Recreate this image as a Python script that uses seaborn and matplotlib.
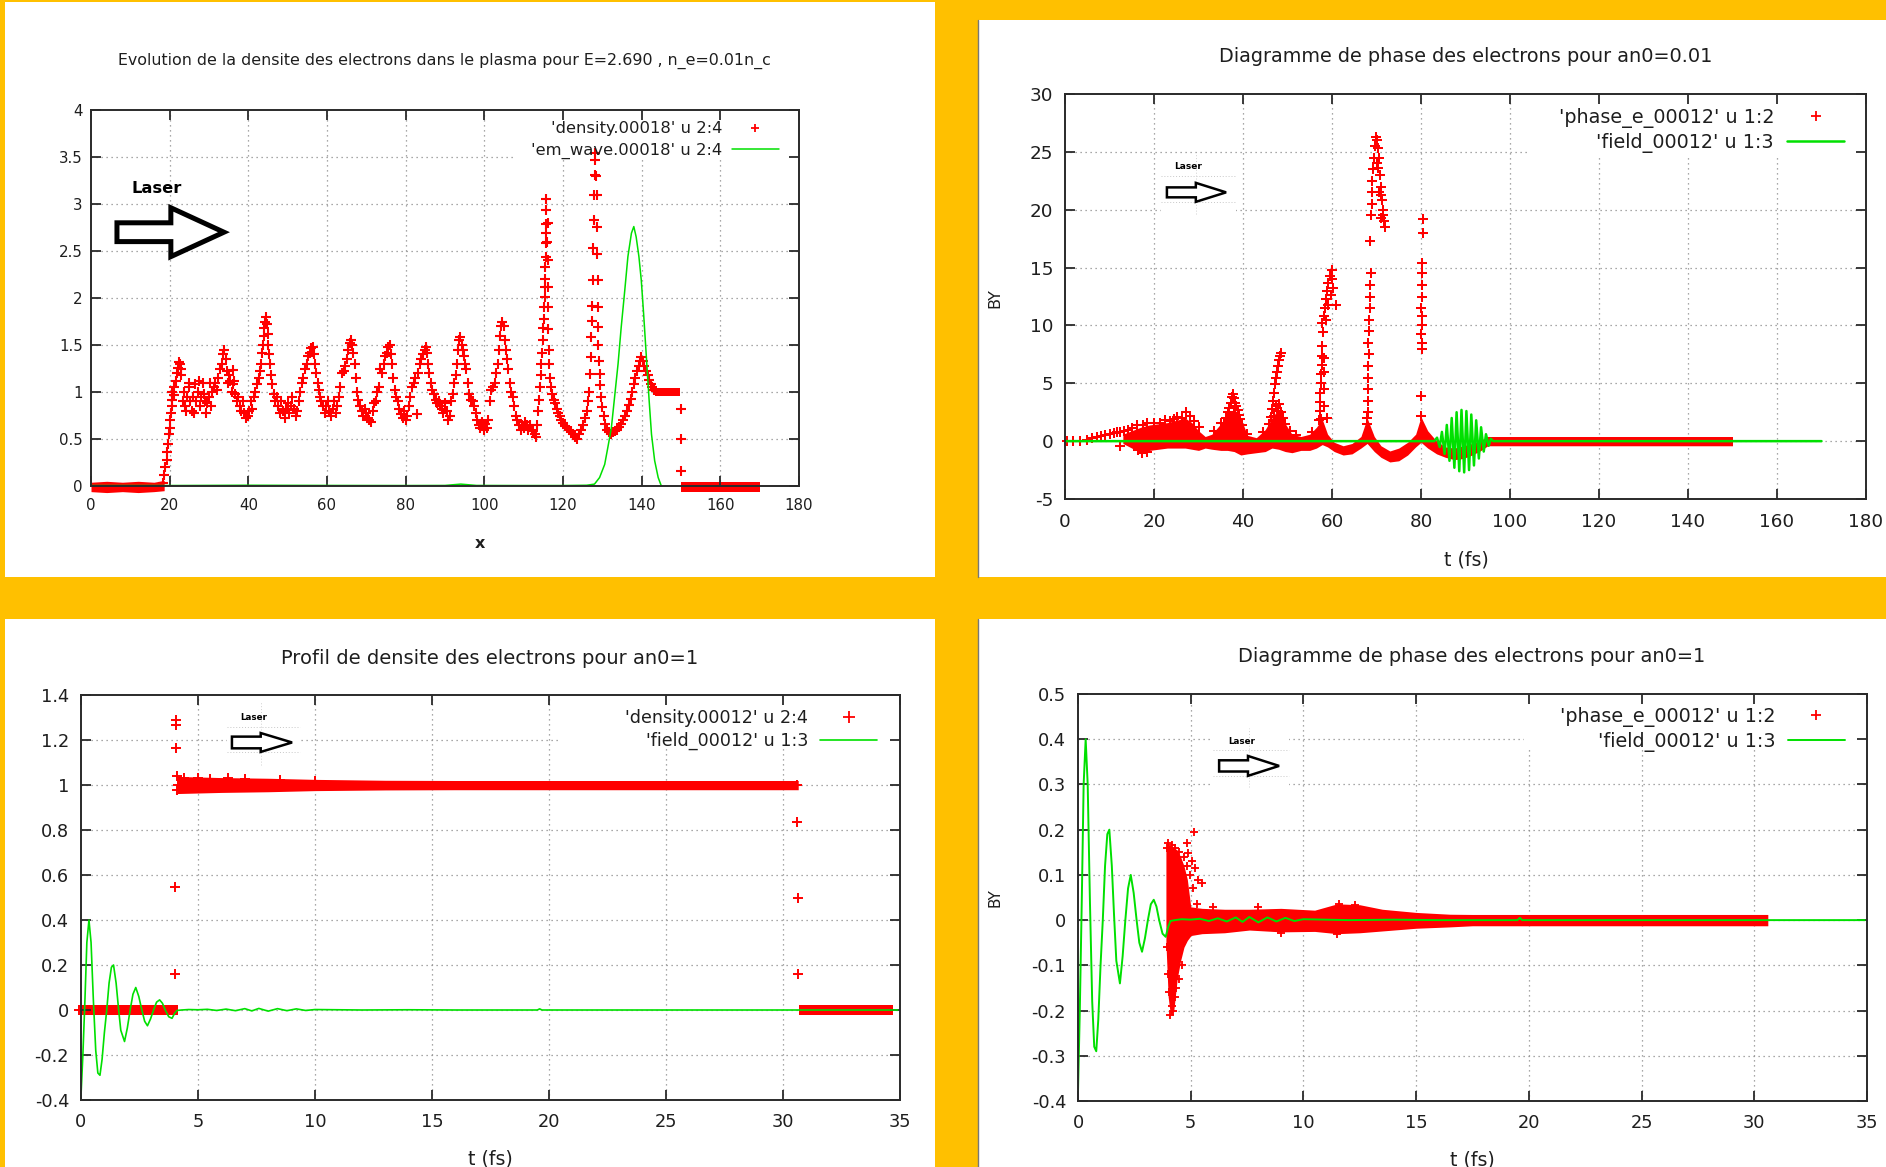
import matplotlib
matplotlib.use("Agg")
import matplotlib.pyplot as plt
import seaborn as sns
from matplotlib.lines import Line2D
from matplotlib.patches import Rectangle, FancyArrow

# ======================= DATA =======================
# ---- Panel 1 (top-left): density / em_wave, step 00018
tl_xticks = [0, 20, 40, 60, 80, 100, 120, 140, 160, 180]
tl_yticks = [0, 0.5, 1, 1.5, 2, 2.5, 3, 3.5, 4]
tl_labels = ["'density.00018' u 2:4", "'em_wave.00018' u 2:4"]
tl_density_pts = [
    (18.2, 0.03), (18.6, 0.12), (18.9, 0.2), (19.2, 0.28), (19.4, 0.36), (19.6, 0.45), (19.8, 0.55), (20.0, 0.62),
    (20.2, 0.7), (20.4, 0.78), (20.5, 0.85), (20.7, 0.92), (20.6, 1.0), (21.0, 0.97), (21.2, 1.05), (21.5, 1.12),
    (21.8, 1.2), (22.1, 1.26), (22.4, 1.32), (22.7, 1.3), (23.0, 1.25), (22.9, 1.18),
    (23.3, 0.9), (23.6, 1.0), (24.0, 0.85), (24.4, 0.95), (24.8, 1.05), (25.2, 0.9), (25.6, 0.8), (26.0, 0.95),
    (26.4, 1.08), (26.8, 0.9), (27.2, 1.0), (27.6, 0.85), (28.0, 0.95), (28.4, 1.1), (28.8, 0.98), (29.2, 0.78),
    (29.6, 0.88), (30.0, 0.95), (30.4, 0.85), (30.8, 1.0), (31.2, 1.05), (24.2, 0.8), (25.0, 1.1), (26.2, 0.78),
    (27.4, 1.12), (29.0, 0.9), (30.2, 1.1),
    (31.6, 1.1), (32.0, 1.02), (32.4, 1.15), (32.8, 1.25), (33.2, 1.3), (33.6, 1.4), (33.9, 1.45), (34.2, 1.35),
    (34.5, 1.22), (34.8, 1.1), (35.1, 1.18), (35.4, 1.12), (35.8, 1.0), (36.2, 1.08), (36.6, 0.98), (37.0, 0.9),
    (37.4, 0.95), (37.8, 0.85), (38.2, 0.8), (38.6, 0.9), (39.0, 0.78), (39.4, 0.72), (39.8, 0.75), (40.2, 0.8),
    (40.6, 0.9), (41.0, 0.82), (41.4, 0.95), (41.8, 1.0), (42.2, 1.08), (42.6, 1.15), (36.0, 1.23), (36.4, 1.12),
    (42.9, 1.22), (43.2, 1.3), (43.5, 1.42), (43.7, 1.5), (43.9, 1.6), (44.1, 1.68), (44.3, 1.75), (44.5, 1.8),
    (44.7, 1.72), (44.9, 1.62), (45.1, 1.5), (45.3, 1.4), (45.5, 1.3), (45.7, 1.18), (46.0, 1.08), (46.4, 0.98),
    (46.8, 0.9), (47.2, 0.95), (47.6, 0.85), (48.0, 0.78), (48.4, 0.9), (48.8, 0.8), (49.2, 0.72), (49.6, 0.82),
    (50.0, 0.88), (50.4, 0.78), (50.8, 0.85), (51.2, 0.95), (51.6, 0.82), (52.0, 0.75), (52.4, 0.8), (52.8, 0.9),
    (53.2, 1.0), (53.6, 1.1), (54.0, 1.15), (54.4, 1.25), (54.8, 1.3), (55.2, 1.38), (55.6, 1.42), (56.0, 1.47),
    (56.4, 1.48), (56.7, 1.4), (57.0, 1.3), (57.3, 1.2), (57.6, 1.1), (57.9, 1.02), (58.2, 0.95), (58.6, 0.9),
    (59.0, 0.85), (59.4, 0.78), (59.8, 0.85), (60.2, 0.9), (60.6, 0.8), (61.0, 0.75), (61.4, 0.82), (61.8, 0.9),
    (62.2, 0.78), (62.6, 0.85), (63.0, 0.95), (63.4, 1.05), (63.8, 1.2),
    (64.2, 1.22), (64.6, 1.28), (65.0, 1.35), (65.4, 1.45), (65.8, 1.52), (66.1, 1.55), (66.4, 1.5), (66.7, 1.42),
    (67.0, 1.3), (67.3, 1.15), (67.6, 1.0), (68.0, 0.92), (68.4, 0.85), (68.8, 0.8), (69.2, 0.75), (69.6, 0.82),
    (70.0, 0.78), (70.4, 0.72), (70.8, 0.7), (71.2, 0.68), (71.6, 0.8), (72.0, 0.88), (72.4, 0.9), (72.8, 1.0),
    (73.2, 1.05), (73.6, 1.25), (74.0, 1.2), (74.4, 1.3), (74.8, 1.38), (75.2, 1.42), (75.6, 1.48), (75.9, 1.5),
    (76.2, 1.4), (76.5, 1.3), (76.8, 1.15), (77.2, 1.02), (77.6, 0.95), (78.0, 0.9), (78.4, 0.82), (78.8, 0.77),
    (79.2, 0.72), (79.6, 0.8), (80.0, 0.7), (80.4, 0.75), (80.8, 0.85), (81.2, 0.95), (81.6, 1.05), (82.0, 1.1),
    (82.4, 1.15), (82.8, 0.77), (83.2, 1.2), (83.6, 1.3), (84.0, 1.35), (84.4, 1.4), (84.8, 1.45), (85.1, 1.48),
    (85.4, 1.42), (85.7, 1.3), (86.0, 1.2), (86.4, 1.1), (86.8, 1.02), (87.2, 0.98), (87.6, 0.92), (88.0, 0.88),
    (88.4, 0.9), (88.8, 0.85), (89.2, 0.82), (89.6, 0.78), (90.0, 0.88), (90.4, 0.8), (90.8, 0.7), (91.2, 0.75),
    (91.6, 0.9), (92.0, 0.98), (92.4, 1.1), (92.8, 1.18),
    (93.1, 1.3), (93.4, 1.45), (93.6, 1.55), (93.9, 1.58), (94.2, 1.5), (94.5, 1.45), (94.8, 1.38), (95.1, 1.3),
    (95.4, 1.25), (95.8, 1.1), (96.2, 0.98), (96.6, 0.92), (97.0, 0.9), (97.4, 0.85), (97.8, 0.78), (98.2, 0.7),
    (98.6, 0.65), (99.0, 0.62), (99.4, 0.68), (99.8, 0.6), (100.2, 0.66), (100.6, 0.62), (101.0, 0.7), (101.4, 0.9),
    (101.8, 1.02),
    (102.2, 1.05), (102.6, 1.1), (103.0, 1.2), (103.4, 1.3), (103.7, 1.45), (104.0, 1.6), (104.3, 1.7), (104.6, 1.75),
    (104.9, 1.7), (105.2, 1.55), (105.5, 1.45), (105.8, 1.35), (106.1, 1.25), (106.4, 1.1), (106.8, 1.0), (107.2, 0.95),
    (107.6, 0.85), (108.0, 0.75), (108.4, 0.7), (108.8, 0.65), (109.2, 0.6), (109.6, 0.65), (110.0, 0.62), (110.4, 0.68),
    (110.8, 0.65), (111.2, 0.6), (111.6, 0.65), (112.0, 0.6), (112.4, 0.58), (112.8, 0.55), (113.2, 0.52), (113.5, 0.65),
    (113.7, 0.8), (113.9, 0.92), (114.1, 1.05), (114.3, 1.18), (114.5, 1.3),
    (114.7, 1.42), (114.9, 1.55), (115.0, 1.68), (115.1, 1.78), (115.2, 1.9), (115.3, 2.01), (115.4, 2.12), (115.4, 2.2),
    (115.5, 2.33), (115.6, 2.44), (115.6, 2.58), (115.7, 2.69), (115.7, 2.79), (115.8, 2.94), (115.8, 3.05),
    (116.1, 2.8), (116.0, 2.6), (116.1, 2.4), (116.2, 2.12), (116.2, 1.9), (116.3, 1.67), (116.4, 1.45),
    (116.5, 1.3), (116.7, 1.15), (117.0, 1.05), (117.3, 0.98), (117.6, 0.92), (118.0, 0.88), (118.4, 0.82), (118.8, 0.78),
    (119.2, 0.74), (119.6, 0.7), (120.0, 0.67), (120.5, 0.64), (121.0, 0.62), (121.5, 0.6), (122.0, 0.58), (122.5, 0.55),
    (123.0, 0.52), (123.5, 0.5), (124.0, 0.55), (124.5, 0.6), (125.0, 0.65), (125.5, 0.72), (126.0, 0.8), (126.4, 0.9),
    (126.7, 1.0), (126.8, 1.19), (127.0, 1.37), (127.2, 1.58), (127.3, 1.76), (127.4, 1.92), (127.6, 2.19), (127.7, 2.53),
    (127.8, 2.83), (128.0, 3.1), (128.1, 3.31), (128.1, 3.47), (128.2, 3.54), (128.5, 3.3), (128.6, 3.1), (128.6, 2.76),
    (128.7, 2.47), (128.8, 2.19), (128.9, 1.9), (129.0, 1.69), (129.0, 1.5), (129.2, 1.33), (129.3, 1.19), (129.4, 1.07),
    (129.7, 0.95), (130.0, 0.84), (130.4, 0.74), (130.8, 0.66), (131.3, 0.6), (131.8, 0.57), (132.3, 0.55), (132.8, 0.57),
    (133.3, 0.58), (133.8, 0.6), (134.3, 0.63), (134.8, 0.66), (135.3, 0.7), (135.8, 0.75), (136.3, 0.8), (136.8, 0.86),
    (137.2, 0.93), (137.6, 1.0), (138.0, 1.08), (138.4, 1.15), (138.8, 1.22), (139.2, 1.28), (139.6, 1.33), (139.9, 1.37),
    (140.3, 1.33), (140.7, 1.28), (141.1, 1.22), (141.5, 1.18), (141.9, 1.13), (142.3, 1.09), (142.7, 1.05), (143.1, 1.02),
    (149.9, 0.82), (149.9, 0.5), (149.9, 0.16),
]
tl_band0_x = [0.0, 4.0, 8.0, 12.0, 16.0, 18.6]
tl_band0_lo = [-0.06, -0.07, -0.06, -0.07, -0.06, -0.05]
tl_band0_hi = [0.04, 0.05, 0.04, 0.05, 0.04, 0.06]
tl_band1_x = [143.3, 149.7]
tl_band1_lo = [0.96, 0.96]
tl_band1_hi = [1.04, 1.04]
tl_band2_x = [150.0, 170.0]
tl_band2_lo = [-0.06, -0.06]
tl_band2_hi = [0.04, 0.04]
tl_emwave_x = [0, 20, 40, 60, 80, 90, 94, 98, 110, 120, 126, 128, 129.3, 130.6, 131.4, 132.3, 133.1, 134.0,
               134.8, 135.7, 136.5, 137.4, 138.0, 138.6, 139.3, 139.9, 140.5, 141.2, 141.9, 142.5, 143.3, 144.2, 145.0]
tl_emwave_y = [0.005, 0.005, 0.008, 0.006, 0.005, 0.006, 0.02, 0.006, 0.005, 0.005, 0.008, 0.02, 0.09, 0.23, 0.41,
               0.62, 0.94, 1.3, 1.69, 2.08, 2.44, 2.69, 2.76, 2.65, 2.44, 2.19, 1.83, 1.37, 0.91, 0.55, 0.27, 0.09, 0.0]

# ---- Panel 2 (top-right): phase diagram an0=0.01
tr_xticks = [0, 20, 40, 60, 80, 100, 120, 140, 160, 180]
tr_yticks = [-5, 0, 5, 10, 15, 20, 25, 30]
tr_labels = ["'phase_e_00012' u 1:2", "'field_00012' u 1:3"]
tr_phase_pts = [
    (0.5, 0.0), (1.9, 0.0), (3.4, 0.05), (4.9, 0.1), (6.0, 0.25), (7.1, 0.39), (8.0, 0.45), (9.0, 0.53), (10.0, 0.6),
    (10.9, 0.68), (11.7, 0.75), (12.4, 0.82), (12.4, -0.42), (13.3, 0.9), (14.2, 0.96), (15.0, 1.1), (16.1, 1.4),
    (17.6, 1.4), (18.4, 1.54), (17.2, -1.05), (18.4, -0.9), (16.5, -0.8),
    (20.0, 1.6), (21.3, 1.54), (22.5, 1.8), (23.6, 1.7), (24.5, 1.9), (25.1, 2.1), (26.2, 2.0), (27.3, 2.55),
    (28.0, 2.2), (29.0, 1.7), (30.0, 1.2), (33.5, 0.9), (35.0, 1.6),
    (35.8, 1.6), (36.2, 2.0), (36.6, 2.5), (36.9, 2.9), (37.2, 3.3), (37.5, 3.8), (37.7, 4.1), (38.0, 3.7), (38.3, 3.3),
    (38.5, 3.0), (38.8, 2.7), (39.1, 2.3), (39.4, 1.9), (39.7, 1.4), (37.0, 2.2), (38.0, 2.4), (38.7, 1.8),
    (45.8, 1.5), (46.2, 2.1), (46.5, 2.8), (46.8, 3.5), (47.0, 4.2), (47.2, 4.9), (47.4, 5.5), (47.6, 6.0), (47.9, 6.5),
    (48.1, 7.0), (48.4, 7.4), (48.6, 7.6), (47.5, 3.0), (47.8, 2.6), (48.2, 3.2), (48.6, 2.5), (49.0, 2.0), (49.4, 1.5),
    (46.9, 2.2), (48.0, 1.8),
    (57.0, 1.8), (57.2, 2.6), (57.3, 3.4), (57.4, 4.2), (57.5, 5.0), (57.6, 5.8), (57.7, 6.6), (57.8, 7.4), (57.8, 8.2),
    (58.1, 3.0), (58.2, 4.5), (58.2, 6.0), (58.3, 7.2), (57.9, 9.4), (57.7, 10.2), (58.1, 10.8), (58.4, 11.5),
    (58.6, 12.3), (58.9, 13.0), (59.2, 13.7), (59.6, 14.3), (59.9, 14.8), (60.1, 14.0), (60.3, 13.2), (59.7, 12.6),
    (59.0, 11.8), (58.6, 10.5), (60.8, 11.8), (58.8, 2.0),
    (67.9, 1.5), (68.0, 2.5), (68.1, 3.5), (68.0, 4.5), (68.2, 5.5), (68.1, 6.5), (68.3, 7.5), (68.2, 8.5), (68.4, 9.5),
    (68.3, 10.5), (68.5, 11.5), (68.6, 12.5), (68.5, 13.5), (68.7, 14.5), (68.6, 17.3), (68.8, 19.5), (69.0, 20.5),
    (68.9, 21.5), (69.1, 22.5), (69.3, 23.5), (69.4, 24.5), (69.6, 25.5), (69.8, 26.3), (70.1, 26.0), (70.3, 25.3),
    (70.5, 24.5), (70.3, 23.6), (70.7, 23.0), (70.9, 22.0), (71.0, 21.3), (71.2, 20.8), (71.4, 20.0), (71.5, 19.5),
    (71.7, 19.0), (71.8, 18.5), (70.0, 24.0), (70.6, 21.5), (71.1, 19.3),
    (80.5, 19.2), (80.4, 18.0), (80.3, 15.4), (80.2, 14.5), (80.3, 13.5), (80.2, 12.5), (80.1, 11.5), (80.3, 10.8),
    (80.2, 10.0), (80.1, 9.3), (80.3, 8.5), (80.2, 8.0), (79.9, 3.9),
    (57.5, 1.9), (67.9, 2.0), (80.0, 2.2), (41.0, 0.6), (44.5, 0.8), (50.5, 0.9), (52.0, 0.5), (55.5, 0.8),
]
tr_band_x = [13, 15, 17, 19, 21, 23, 25, 27, 28.5, 30, 31.5, 33, 35, 36.5, 38, 39.5, 41, 43, 45, 46.5,
             48, 49.5, 51, 53, 55, 56.5, 57.8, 59, 60.5, 62.5, 64.5, 66.5, 67.9, 69.5, 71, 73, 75, 77, 78.8, 80,
             81.5, 83.5, 85.5, 87.5, 89.5, 91.5, 93.5, 95, 150]
tr_band_hi = [0.6, 0.9, 1.2, 1.4, 1.5, 1.6, 1.8, 2.0, 1.6, 0.9, 0.4, 0.6, 1.5, 2.2, 2.8, 2.0, 0.5, 0.3, 1.0, 2.0,
              2.8, 1.5, 0.6, 0.4, 0.6, 1.2, 1.9, 0.6, -0.1, -0.4, -0.2, 0.4, 2.0, 0.4, -0.4, -0.85, -0.6, -0.1, 0.6, 2.1,
              0.9, 0.0, -0.5, -0.6, -0.4, -0.2, 0.1, 0.4, 0.4]
tr_band_lo = [-0.2, -0.6, -1.0, -0.8, -0.7, -0.6, -0.6, -0.6, -0.7, -0.8, -0.6, -0.7, -0.8, -0.8, -0.9, -1.2, -1.1, -1.0, -0.9, -0.6,
              -0.7, -0.9, -1.0, -0.8, -0.8, -0.6, -0.3, -0.5, -0.9, -1.2, -1.1, -0.6, -0.2, -0.9, -1.4, -1.8, -1.7, -1.2, -0.5, -0.1,
              -0.6, -1.1, -1.4, -1.6, -1.5, -1.2, -0.8, -0.4, -0.4]
tr_field_x = [0.0, 83.0, 83.6, 84.2, 84.7, 85.3, 85.8, 86.4, 86.9, 87.5, 88.0, 88.6, 89.1, 89.7, 90.2, 90.8, 91.3,
              91.9, 92.4, 93.0, 93.5, 94.1, 94.6, 95.2, 95.7, 96.2, 170.0]
tr_field_y = [0.0, 0.0, 0.3, -0.5, 0.8, -1.1, 1.4, -1.7, 2.0, -2.3, 2.5, -2.6, 2.7, -2.7, 2.6, -2.5, 2.3,
              -2.1, 1.8, -1.5, 1.2, -0.9, 0.6, -0.4, 0.2, 0.0, 0.0]

# ---- Shared laser field (field_00012 u 1:3), panels 3 and 4
field_t = [0.0, 0.08, 0.17, 0.25, 0.34, 0.43, 0.53, 0.63, 0.72, 0.81, 0.9, 1.0, 1.1, 1.2, 1.3, 1.39, 1.5, 1.6, 1.7,
           1.86, 1.98, 2.1, 2.22, 2.34, 2.47, 2.6, 2.72, 2.84, 2.97, 3.1, 3.23, 3.36, 3.48, 3.6, 3.75, 3.89, 4.0,
           4.1, 4.3, 4.6, 5.0, 5.4, 5.8, 6.2, 6.6, 7.0, 7.3, 7.6, 8.0, 8.4, 8.8, 9.2, 9.6, 10.0, 11.0, 12.0, 14.0,
           16.0, 19.5, 19.6, 19.7, 22.0, 26.0, 30.0, 34.9]
field_v = [-0.38, -0.2, 0.05, 0.3, 0.4, 0.3, 0.04, -0.18, -0.28, -0.29, -0.22, -0.1, 0.0, 0.12, 0.19, 0.2, 0.12,
           0.01, -0.09, -0.14, -0.08, 0.0, 0.07, 0.1, 0.06, 0.0, -0.05, -0.07, -0.04, 0.0, 0.035, 0.045, 0.03, 0.0,
           -0.03, -0.037, -0.015, -0.002, 0.0, 0.002, 0.001, 0.003, -0.002, 0.004, -0.003, 0.006, -0.004, 0.007,
           -0.005, 0.006, -0.003, 0.005, -0.002, 0.002, 0.001, 0.0, 0.001, 0.0, 0.0, 0.005, 0.0, 0.0, 0.0, 0.0, 0.0]

# ---- Panel 3 (bottom-left): density profile an0=1
bl_xticks = [0, 5, 10, 15, 20, 25, 30, 35]
bl_yticks = [-0.4, -0.2, 0, 0.2, 0.4, 0.6, 0.8, 1, 1.2, 1.4]
bl_labels = ["'density.00012' u 2:4", "'field_00012' u 1:3"]
bl_density_pts = [(-0.1, 0.0), (4.05, 1.29), (4.08, 1.265), (4.05, 1.165), (4.1, 1.04), (4.0, 0.545), (4.0, 0.16),
                  (4.15, 1.0), (4.1, 0.98), (30.6, 0.835), (30.65, 0.5), (30.65, 0.16), (30.6, 1.0), (4.4, 1.03),
                  (5.0, 1.03), (5.5, 1.028), (6.3, 1.03), (7.0, 1.027), (8.5, 1.024), (10.0, 1.02)]
bl_band0_x = [0.0, 4.15]
bl_band0_lo = [-0.022, -0.022]
bl_band0_hi = [0.02, 0.02]
bl_band1_x = [4.1, 6.0, 8.0, 10.0, 13.0, 16.0, 30.65]
bl_band1_lo = [0.962, 0.967, 0.97, 0.975, 0.978, 0.979, 0.979]
bl_band1_hi = [1.038, 1.033, 1.03, 1.025, 1.021, 1.02, 1.02]
bl_band2_x = [30.7, 34.7]
bl_band2_lo = [-0.022, -0.022]
bl_band2_hi = [0.02, 0.02]

# ---- Panel 4 (bottom-right): phase diagram an0=1
br_xticks = [0, 5, 10, 15, 20, 25, 30, 35]
br_yticks = [-0.4, -0.3, -0.2, -0.1, 0, 0.1, 0.2, 0.3, 0.4, 0.5]
br_labels = ["'phase_e_00012' u 1:2", "'field_00012' u 1:3"]
br_phase_pts = [(3.95, 0.16), (4.0, 0.17), (4.15, 0.165), (4.3, 0.16), (4.5, 0.15), (4.7, 0.14), (4.82, 0.17),
                (4.9, 0.148), (5.04, 0.13), (5.15, 0.194), (5.19, 0.115), (5.34, 0.089), (5.49, 0.081), (4.85, 0.12),
                (4.95, 0.1), (5.1, 0.07), (4.6, 0.12), (4.4, 0.13), (4.1, -0.21), (4.2, -0.2), (4.05, -0.16),
                (4.3, -0.17), (4.6, -0.1), (4.5, -0.13), (4.35, -0.15), (4.15, -0.19), (4.25, -0.13), (4.0, -0.12),
                (3.95, -0.06), (5.3, 0.035), (6.0, 0.028), (8.0, 0.028), (11.6, 0.036), (12.3, 0.034),
                (9.0, -0.028), (11.5, -0.03)]
br_core_x = [3.9, 4.0, 4.1, 4.25, 4.4, 4.55, 4.7, 4.85, 5.0]
br_core_lo = [-0.05, -0.17, -0.21, -0.2, -0.13, -0.09, -0.06, -0.045, -0.035]
br_core_hi = [0.16, 0.165, 0.165, 0.16, 0.155, 0.14, 0.12, 0.09, 0.03]
br_band_x = [4.9, 5.5, 6.5, 7.6, 9.0, 10.5, 11.5, 12.5, 13.5, 15.0, 16.5, 17.5, 30.6]
br_band_lo = [-0.035, -0.03, -0.028, -0.022, -0.026, -0.025, -0.03, -0.028, -0.024, -0.018, -0.015, -0.0125, -0.0125]
br_band_hi = [0.03, 0.026, 0.024, 0.024, 0.026, 0.022, 0.036, 0.034, 0.024, 0.017, 0.013, 0.0125, 0.0125]

# ======================= STYLE / LAYOUT =======================
sns.set_theme(style="white")
plt.rcParams["font.family"] = ["DejaVu Sans"]
plt.rcParams["axes.unicode_minus"] = False

ORANGE = "#ffc000"
RED = "#ff0000"
GREEN = "#00e000"
GRID = "#8c8c8c"
AXC = "#2a2a2a"
TXT = "#1e1e1e"

W, H = 1886, 1167
fig = plt.figure(figsize=(W / 100, H / 100), dpi=100)
fig.patch.set_facecolor(ORANGE)

for (x0, y0, x1, y1) in [(5, 2, 935, 577), (978, 20, 1886, 577), (5, 619, 935, 1167), (978, 619, 1886, 1167)]:
    fig.patches.append(Rectangle((x0 / W, 1 - y1 / H), (x1 - x0) / W, (y1 - y0) / H,
                                 transform=fig.transFigure, facecolor="white", edgecolor="none", zorder=-5))
for (y0, y1) in [(20, 577), (619, 1167)]:
    fig.add_artist(Line2D([978 / W, 978 / W], [1 - y1 / H, 1 - y0 / H], color="#777777", lw=1.0,
                          transform=fig.transFigure, zorder=-4))


def make_ax(l, t, r, b):
    return fig.add_axes([l / W, 1 - b / H, (r - l) / W, (b - t) / H])


def style(ax, xlim, ylim, xticks, yticks, fs, xpad, ypad):
    ax.set_xlim(xlim)
    ax.set_ylim(ylim)
    ax.set_xticks(xticks)
    ax.set_xticklabels([f"{v:g}" for v in xticks])
    ax.set_yticks(yticks)
    ax.set_yticklabels([f"{v:g}" for v in yticks])
    ax.set_facecolor("white")
    for s in ax.spines.values():
        s.set_visible(True)
        s.set_color(AXC)
        s.set_linewidth(1.4)
        s.set_zorder(6)
    ax.tick_params(which="major", direction="in", length=7, width=1.3, color=AXC, top=True, right=True,
                   bottom=True, left=True, labelsize=fs, labelcolor=TXT)
    ax.tick_params(axis="x", pad=xpad)
    ax.tick_params(axis="y", pad=ypad)
    ax.set_axisbelow(False)
    ax.grid(False)
    for v in xticks[1:-1]:
        ax.axvline(v, color=GRID, lw=0.9, ls=(0, (1, 3)), zorder=0.2)
    for v in yticks[1:-1]:
        ax.axhline(v, color=GRID, lw=0.9, ls=(0, (1, 3)), zorder=0.2)
    ax.set_xlabel("")
    ax.set_ylabel("")


def cover(ax, x0, y0, x1, y1):
    ax.add_patch(Rectangle((x0, y0), x1 - x0, y1 - y0, transform=ax.transAxes, facecolor="white",
                           edgecolor="none", zorder=0.4))


def legend(ax, labels, fs, ms, glw, anchor, hl, htp, ls):
    handles = [Line2D([], [], ls="none", marker="+", color=RED, ms=ms, mew=1.3),
               Line2D([], [], color=GREEN, lw=glw)]
    lg = ax.legend(handles, labels, loc="upper right", bbox_to_anchor=anchor, markerfirst=False, frameon=False,
                   fontsize=fs, handlelength=hl, handletextpad=htp, labelspacing=ls, borderpad=0,
                   borderaxespad=0)
    for t in lg.get_texts():
        t.set_color(TXT)
    lg.set_zorder(7)


def laser_patch(ax, xr, yr, hy, vx):
    ax.add_patch(Rectangle((xr[0], yr[0]), xr[1] - xr[0], yr[1] - yr[0], facecolor="white",
                           edgecolor="none", zorder=0.4))
    for y in hy:
        ax.plot(xr, [y, y], color="#c8c8c8", lw=0.7, ls=(0, (1, 2)), zorder=0.45)
    ax.plot([vx, vx], yr, color="#d0d0d0", lw=0.7, ls=(0, (1, 2)), zorder=0.45)


def scatter(ax, pts, s, lw=1.2):
    sns.scatterplot(x=[p[0] for p in pts], y=[p[1] for p in pts], ax=ax, marker="+", color=RED, s=s,
                    linewidth=lw, zorder=2, legend=False, clip_on=False)


def line(ax, xs, ys, lw):
    sns.lineplot(x=xs, y=ys, ax=ax, color=GREEN, linewidth=lw, estimator=None, sort=False, zorder=4)


def band(ax, xs, lo, hi):
    ax.fill_between(xs, lo, hi, color=RED, lw=0, zorder=1.5, clip_on=False)


renderer = fig.canvas.get_renderer()


def ftext(px, py, s, target_w=None, **kw):
    t = fig.text(px / W, 1 - py / H, s, ha="center", va="center", color=TXT, **kw)
    if target_w:
        w = t.get_window_extent(renderer=renderer).width
        t.set_fontsize(t.get_fontsize() * target_w / w)
    return t


# ---------------- Panel 1 ----------------
ax1 = make_ax(91, 110, 799, 486)
style(ax1, (0, 180), (0, 4), tl_xticks, tl_yticks, 10.8, 8.8, 6.0)
cover(ax1, 0.599, 0.867, 1.0, 1.0)
band(ax1, tl_band0_x, tl_band0_lo, tl_band0_hi)
band(ax1, tl_band1_x, tl_band1_lo, tl_band1_hi)
band(ax1, tl_band2_x, tl_band2_lo, tl_band2_hi)
scatter(ax1, tl_density_pts, s=48, lw=1.5)
line(ax1, tl_emwave_x, tl_emwave_y, 1.1)
ax1.add_patch(FancyArrow(6.6, 2.70, 27.2, 0, width=0.2, head_width=0.52, head_length=13.5,
                         length_includes_head=True, facecolor="white", edgecolor="black", lw=3.6,
                         joinstyle="miter", zorder=5))
ax1.text(10.2, 3.17, "Laser", ha="left", va="center", fontweight="bold", fontsize=11.7, color="black", zorder=5)
legend(ax1, tl_labels, 11.8, 6.0, 1.1, (0.9718, 0.970), 2.9, 0.55, 0.4)
ax1.set_xlabel("")
ax1.set_ylabel("")

# ---------------- Panel 2 ----------------
ax2 = make_ax(1065, 94, 1866, 499)
style(ax2, (0, 180), (-5, 30), tr_xticks, tr_yticks, 13.2, 9.9, 8.6)
cover(ax2, 0.58, 0.849, 1.0, 1.0)
laser_patch(ax2, (21.6, 38.4), (19.6, 24.8), (22.9, 20.7), 29.4)
band(ax2, tr_band_x, tr_band_lo, tr_band_hi)
scatter(ax2, tr_phase_pts, s=48, lw=1.45)
line(ax2, tr_field_x, tr_field_y, 1.8)
ax2.add_patch(FancyArrow(22.9, 21.5, 13.3, 0, width=0.86, head_width=1.64, head_length=6.8,
                         length_includes_head=True, facecolor="white", edgecolor="black", lw=1.8,
                         joinstyle="miter", zorder=5))
ax2.text(27.6, 23.7, "Laser", ha="center", va="center", fontweight="bold", fontsize=6.5, color="black", zorder=5)
legend(ax2, tr_labels, 13.8, 7.2, 1.8, (0.9725, 0.965), 2.97, 0.68, 0.24)
ax2.set_xlabel("")
ax2.set_ylabel("")

# ---------------- Panel 3 ----------------
ax3 = make_ax(81, 695, 900, 1100)
style(ax3, (0, 35), (-0.4, 1.4), bl_xticks, bl_yticks, 12.8, 9.5, 8.6)
cover(ax3, 0.585, 0.869, 1.0, 1.0)
laser_patch(ax3, (6.22, 9.36), (1.089, 1.373), (1.258, 1.145), 7.68)
band(ax3, bl_band0_x, bl_band0_lo, bl_band0_hi)
band(ax3, bl_band1_x, bl_band1_lo, bl_band1_hi)
band(ax3, bl_band2_x, bl_band2_lo, bl_band2_hi)
scatter(ax3, bl_density_pts, s=62, lw=1.4)
line(ax3, field_t, field_v, 1.2)
ax3.add_patch(FancyArrow(6.45, 1.189, 2.57, 0, width=0.052, head_width=0.084, head_length=1.34,
                         length_includes_head=True, facecolor="white", edgecolor="black", lw=1.8,
                         joinstyle="miter", zorder=5))
ax3.text(7.37, 1.298, "Laser", ha="center", va="center", fontweight="bold", fontsize=6.3, color="black", zorder=5)
legend(ax3, bl_labels, 12.6, 8.0, 1.2, (0.972, 0.965), 3.26, 0.69, 0.28)
ax3.set_xlabel("")
ax3.set_ylabel("")

# ---------------- Panel 4 ----------------
ax4 = make_ax(1078, 694, 1867, 1101)
style(ax4, (0, 35), (-0.4, 0.5), br_xticks, br_yticks, 12.8, 9.5, 8.6)
cover(ax4, 0.565, 0.867, 1.0, 1.0)
laser_patch(ax4, (6.0, 9.35), (0.294, 0.425), (0.377, 0.319), 7.6)
band(ax4, br_core_x, br_core_lo, br_core_hi)
band(ax4, br_band_x, br_band_lo, br_band_hi)
scatter(ax4, br_phase_pts, s=40, lw=1.35)
line(ax4, field_t, field_v, 1.4)
ax4.add_patch(FancyArrow(6.26, 0.341, 2.66, 0, width=0.0248, head_width=0.044, head_length=1.38,
                         length_includes_head=True, facecolor="white", edgecolor="black", lw=1.8,
                         joinstyle="miter", zorder=5))
ax4.text(7.28, 0.396, "Laser", ha="center", va="center", fontweight="bold", fontsize=6.3, color="black", zorder=5)
legend(ax4, br_labels, 13.8, 7.2, 1.4, (0.972, 0.968), 2.97, 0.63, 0.26)
ax4.set_xlabel("")
ax4.set_ylabel("")

# ---------------- Titles and axis labels ----------------
ftext(444, 61, "Evolution de la densite des electrons dans le plasma pour E=2.690 , n_e=0.01n_c", 653, fontsize=11)
ftext(1466, 57, "Diagramme de phase des electrons pour an0=0.01", 495, fontsize=14)
ftext(490, 659, "Profil de densite des electrons pour an0=1", 415, fontsize=13)
ftext(1472, 657, "Diagramme de phase des electrons pour an0=1", 467, fontsize=14)
ftext(480, 544, "x", fontsize=11.5, fontweight="bold")
ftext(1466, 560, "t (fs)", fontsize=13.7)
ftext(490, 1159, "t (fs)", fontsize=13.7)
ftext(1472, 1160, "t (fs)", fontsize=13.7)
ftext(995, 298, "BY", fontsize=11.5, rotation=90)
ftext(995, 898, "BY", fontsize=11, rotation=90)

fig.savefig("out.png", dpi=100, facecolor=fig.get_facecolor())
